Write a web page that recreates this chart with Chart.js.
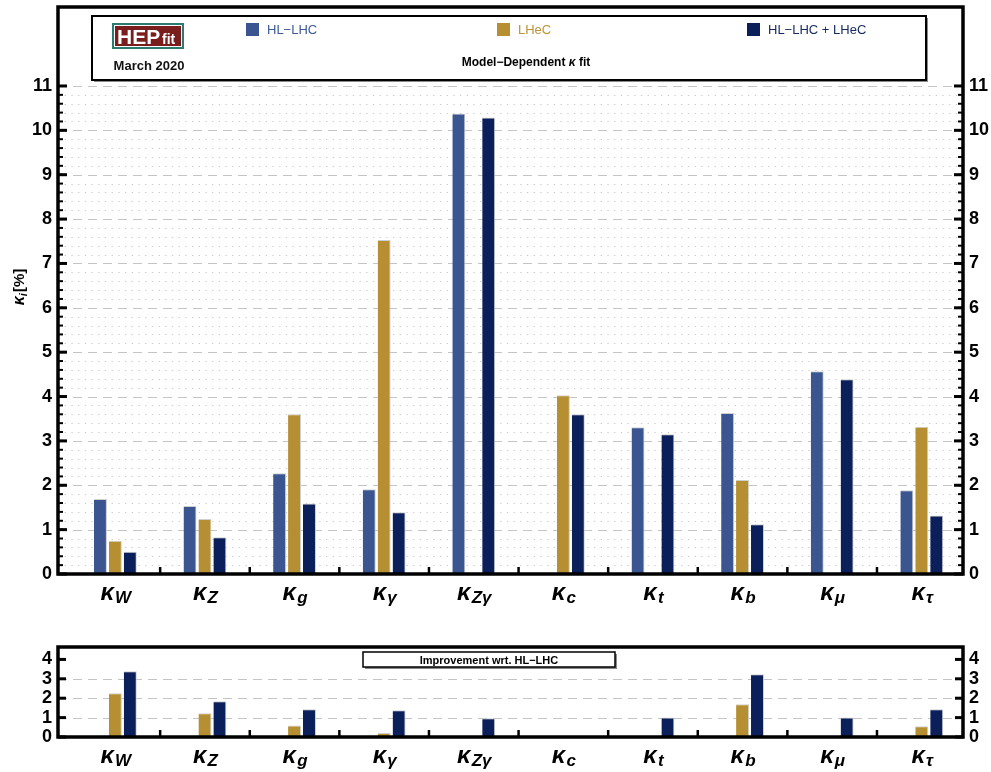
<!DOCTYPE html>
<html>
<head>
<meta charset="utf-8">
<script src="https://cdn.jsdelivr.net/npm/chart.js@4.4.1/dist/chart.umd.min.js"></script>
<style>
  html, body { margin: 0; padding: 0; background: #fff; }
  canvas { position: absolute; left: 0; }
  #main { top: 0; }
  #gain { top: 615px; }
</style>
</head>
<body>
<canvas id="main" width="991" height="615"></canvas>
<canvas id="gain" width="991" height="157"></canvas>
<script>
// couplings (subscript of kappa) and the three fit scenarios
const couplings = ['W', 'Z', 'g', 'γ', 'Zγ', 'c', 't', 'b', 'μ', 'τ'];
const seriesNames = ['HL\u2212LHC', 'LHeC', 'HL\u2212LHC + LHeC'];
const seriesColors = ['#3a5590', '#b58f32', '#0b1f5b'];
const legendTextColors = ['#3d5a96', '#bb9536', '#14275f'];

// kappa uncertainties in %
const hlLhc    = [1.69, 1.53, 2.27, 1.91, 10.38, null, 3.31, 3.63, 4.57, 1.89];
const lhec     = [0.75, 1.24, 3.60, 7.53, null, 4.03, null, 2.12, null, 3.32];
const combined = [0.50, 0.83, 1.59, 1.39, 10.29, 3.60, 3.15, 1.12, 4.39, 1.32];

// improvement factor with respect to HL-LHC alone
const gainLhec     = [2.25, 1.22, 0.59, 0.21, null, null, null, 1.69, null, 0.55];
const gainCombined = [3.39, 1.84, 1.43, 1.38, 0.97, null, 1.01, 3.23, 1.01, 1.43];

const mainTicks = [0, 1, 2, 3, 4, 5, 6, 7, 8, 9, 10, 11];
const gainTicks = [0, 1, 2, 3, 4];

const FONT = '"Liberation Sans", Arial, Helvetica, sans-serif';

function series(values) {
  return values.map((v, i) => ({ x: i, y: v }));
}

function makeDatasets(lists) {
  return lists.map((vals, k) => ({
    label: seriesNames[k],
    data: series(vals),
    backgroundColor: seriesColors[k],
    borderColor: '#cfcfcf',
    borderWidth: { top: 1, right: 1, bottom: 0, left: 0 },
    borderSkipped: 'start'
  }));
}

function drawKappa(ctx, cx, base, sub, big, small, drop) {
  ctx.font = `italic bold ${big}px ${FONT}`;
  const w1 = ctx.measureText('κ').width;
  ctx.font = `italic bold ${small}px ${FONT}`;
  const w2 = ctx.measureText(sub).width;
  const x0 = cx - (w1 + w2) / 2;
  ctx.textAlign = 'left';
  ctx.textBaseline = 'alphabetic';
  ctx.font = `italic bold ${big}px ${FONT}`;
  ctx.fillText('κ', x0, base);
  ctx.font = `italic bold ${small}px ${FONT}`;
  ctx.fillText(sub, x0 + w1 + 1, base + drop);
}

function shadowBox(ctx, x, y, w, h, lw) {
  ctx.fillStyle = '#8a8a8a';
  ctx.fillRect(x + 2, y + 2, w, h);
  ctx.fillStyle = '#fff';
  ctx.fillRect(x, y, w, h);
  ctx.lineWidth = lw;
  ctx.strokeStyle = '#000';
  ctx.strokeRect(x, y, w, h);
}

// grid, frame, inward ticks and kappa labels
const framePlugin = {
  id: 'frame',
  beforeDatasetsDraw(chart, args, o) {
    const { ctx, chartArea: a, scales: { y } } = chart;
    ctx.save();
    ctx.lineWidth = 1;
    if (o.minor) {
      ctx.strokeStyle = '#c9c9c9';
      ctx.setLineDash([1.3, 5.4]);
      const n = Math.round(o.gridTop / o.minor);
      for (let k = 1; k < n; k++) {
        if (k % Math.round(1 / o.minor) === 0) continue;
        const py = Math.round(y.getPixelForValue(k * o.minor)) + 0.5;
        ctx.beginPath(); ctx.moveTo(a.left, py); ctx.lineTo(a.right, py); ctx.stroke();
      }
    }
    ctx.strokeStyle = '#c4c4c4';
    ctx.setLineDash([9, 6]);
    o.grid.forEach(v => {
      const py = Math.round(y.getPixelForValue(v)) + 0.5;
      ctx.beginPath(); ctx.moveTo(a.left, py); ctx.lineTo(a.right, py); ctx.stroke();
    });
    ctx.restore();
  },
  afterDraw(chart, args, o) {
    const { ctx, chartArea: a, scales: { x, y } } = chart;
    ctx.save();
    ctx.strokeStyle = '#000';
    // minor ticks on both sides
    if (o.minor) {
      ctx.lineWidth = 2;
      const n = Math.round(o.gridTop / o.minor);
      for (let k = 1; k < n; k++) {
        const py = y.getPixelForValue(k * o.minor);
        ctx.beginPath(); ctx.moveTo(a.left, py); ctx.lineTo(a.left + 5, py); ctx.stroke();
        ctx.beginPath(); ctx.moveTo(a.right, py); ctx.lineTo(a.right - 5, py); ctx.stroke();
      }
    }
    ctx.lineWidth = 3;
    o.ticks.forEach(v => {
      const py = y.getPixelForValue(v);
      ctx.beginPath(); ctx.moveTo(a.left, py); ctx.lineTo(a.left + o.tickLen, py); ctx.stroke();
      ctx.beginPath(); ctx.moveTo(a.right, py); ctx.lineTo(a.right - o.tickLen, py); ctx.stroke();
    });
    // separators between couplings
    ctx.lineWidth = 2.5;
    for (let i = 0; i < couplings.length - 1; i++) {
      const px = x.getPixelForValue(i + 0.5);
      ctx.beginPath(); ctx.moveTo(px, a.bottom); ctx.lineTo(px, a.bottom - 7); ctx.stroke();
    }
    // frame
    ctx.lineWidth = 3.5;
    ctx.strokeRect(a.left, a.top, a.right - a.left, a.bottom - a.top);
    // coupling labels
    ctx.fillStyle = '#000';
    couplings.forEach((c, i) => {
      drawKappa(ctx, x.getPixelForValue(i), a.bottom + o.labelDrop, c, 24, 17, 3);
    });
    ctx.restore();
  }
};

// legend and title box of the main panel
const legendPlugin = {
  id: 'legendBox',
  afterDraw(chart) {
    const ctx = chart.ctx;
    ctx.save();
    shadowBox(ctx, 92, 16, 834, 64, 2);

    // HEPfit logo
    ctx.fillStyle = '#2d7a70';
    ctx.fillRect(112, 23, 72, 26);
    ctx.fillStyle = '#fff';
    ctx.fillRect(114, 25, 68, 22);
    ctx.fillStyle = '#7a1d1d';
    ctx.fillRect(115, 26, 66, 20);
    ctx.fillStyle = '#fff';
    ctx.textAlign = 'left';
    ctx.textBaseline = 'alphabetic';
    ctx.font = `bold 21px ${FONT}`;
    ctx.fillText('HEP', 117, 44);
    ctx.font = `bold 14px ${FONT}`;
    ctx.fillText('fit', 162, 44);
    ctx.fillStyle = '#111';
    ctx.font = `bold 13px ${FONT}`;
    ctx.textAlign = 'center';
    ctx.fillText('March 2020', 149, 70);

    // legend entries
    const itemX = [246, 497, 747];
    ctx.textAlign = 'left';
    ctx.font = `13px ${FONT}`;
    seriesNames.forEach((name, k) => {
      ctx.fillStyle = seriesColors[k];
      ctx.fillRect(itemX[k], 23, 13, 13);
      ctx.fillStyle = legendTextColors[k];
      ctx.fillText(name, itemX[k] + 21, 34);
    });

    // title
    ctx.fillStyle = '#000';
    ctx.font = `bold 12px ${FONT}`;
    const t1 = 'Model\u2212Dependent ';
    const t3 = ' fit';
    const w1 = ctx.measureText(t1).width;
    const w3 = ctx.measureText(t3).width;
    ctx.font = `italic bold 12px ${FONT}`;
    const w2 = ctx.measureText('κ').width;
    const tx = 526 - (w1 + w2 + w3) / 2;
    ctx.textAlign = 'left';
    ctx.font = `bold 12px ${FONT}`;
    ctx.fillText(t1, tx, 66);
    ctx.font = `italic bold 12px ${FONT}`;
    ctx.fillText('κ', tx + w1, 66);
    ctx.font = `bold 12px ${FONT}`;
    ctx.fillText(t3, tx + w1 + w2, 66);

    // y axis title
    ctx.translate(19, 287);
    ctx.rotate(-Math.PI / 2);
    ctx.font = `italic bold 16px ${FONT}`;
    const k1 = ctx.measureText('κ').width;
    ctx.font = `italic bold 11px ${FONT}`;
    const k2 = ctx.measureText('i').width;
    ctx.font = `bold 15px ${FONT}`;
    const k3 = ctx.measureText('[%]').width;
    const sx = -(k1 + k2 + k3 + 1) / 2;
    ctx.font = `italic bold 16px ${FONT}`;
    ctx.fillText('κ', sx, 5);
    ctx.font = `italic bold 11px ${FONT}`;
    ctx.fillText('i', sx + k1, 8);
    ctx.font = `bold 15px ${FONT}`;
    ctx.fillText('[%]', sx + k1 + k2 + 1, 5);
    ctx.restore();
  }
};

const gainBoxPlugin = {
  id: 'gainBox',
  afterDraw(chart) {
    const ctx = chart.ctx;
    ctx.save();
    shadowBox(ctx, 363, 37, 252, 15, 1.5);
    ctx.fillStyle = '#000';
    ctx.font = `bold 11px ${FONT}`;
    ctx.textAlign = 'center';
    ctx.textBaseline = 'alphabetic';
    ctx.fillText('Improvement wrt. HL\u2212LHC', 489, 49);
    ctx.restore();
  }
};

function yAxis(pos, width, max, tickList) {
  return {
    position: pos,
    min: 0,
    max: max,
    afterBuildTicks: s => { s.ticks = tickList.map(v => ({ value: v })); },
    afterFit: s => { s.width = width; s.paddingTop = 0; s.paddingBottom = 0; },
    grid: { display: false, drawTicks: false },
    border: { display: false },
    ticks: {
      color: '#000',
      padding: 6,
      autoSkip: false,
      font: { family: FONT, size: 18, weight: 'bold' },
      callback: v => v
    }
  };
}

function baseOptions(padTop, padBottom, yMax, tickList, frame) {
  return {
    responsive: false,
    animation: false,
    layout: { padding: { top: padTop, bottom: padBottom, left: 0, right: 0 } },
    datasets: { bar: { categoryPercentage: 0.5, barPercentage: 0.87, grouped: true } },
    plugins: {
      legend: { display: false },
      tooltip: { enabled: false },
      frame: frame
    },
    scales: {
      x: {
        type: 'linear', display: false, offset: false, min: -0.64, max: 9.46,
        // one tick per coupling so the bar width follows the coupling spacing
        afterBuildTicks: s => { s.ticks = couplings.map((c, i) => ({ value: i })); }
      },
      y: yAxis('left', 58, yMax, tickList),
      y2: yAxis('right', 28, yMax, tickList)
    }
  };
}

new Chart(document.getElementById('main'), {
  type: 'bar',
  data: { datasets: makeDatasets([hlLhc, lhec, combined]) },
  options: baseOptions(7, 41, 12.78, mainTicks, {
    minor: 0.2, gridTop: 11, grid: [1, 2, 3, 4, 5, 6, 7, 8, 9, 10, 11],
    ticks: mainTicks, tickLen: 9, labelDrop: 26
  }),
  plugins: [framePlugin, legendPlugin]
});

new Chart(document.getElementById('gain'), {
  type: 'bar',
  data: { datasets: makeDatasets([new Array(couplings.length).fill(null), gainLhec, gainCombined]) },
  options: baseOptions(32, 35, 4.64, gainTicks, {
    minor: 0, gridTop: 4, grid: [1, 2, 3],
    ticks: gainTicks, tickLen: 8, labelDrop: 26
  }),
  plugins: [framePlugin, gainBoxPlugin]
});
</script>
</body>
</html>
